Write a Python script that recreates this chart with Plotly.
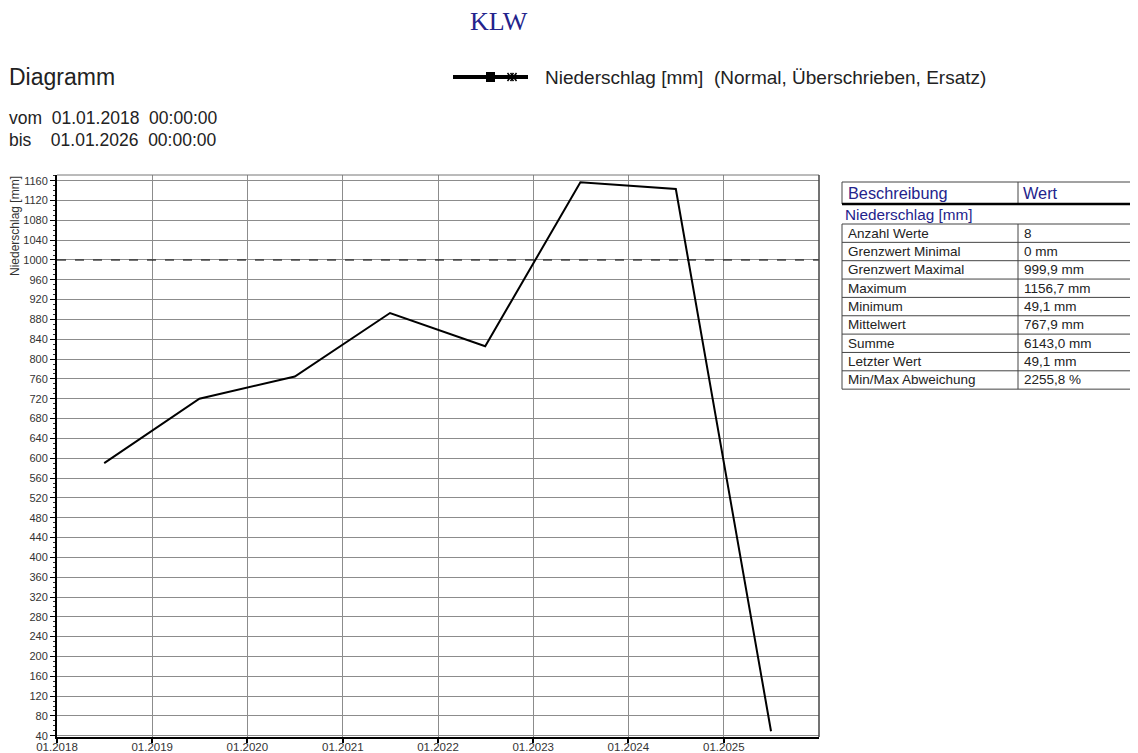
import plotly.graph_objects as go

# ---------------- data ----------------
dates = ["2018-07-01", "2019-07-01", "2020-07-01", "2021-07-01",
         "2022-07-01", "2023-07-01", "2024-07-01", "2025-07-01"]
niederschlag = [590.0, 720.0, 765.0, 893.0, 826.0, 1156.7, 1143.2, 49.1]
grenzwert_max = 999.9

year_ticks = ["2018-01-01", "2019-01-01", "2020-01-01", "2021-01-01",
              "2022-01-01", "2023-01-01", "2024-01-01", "2025-01-01"]
year_labels = ["01.2018", "01.2019", "01.2020", "01.2021",
               "01.2022", "01.2023", "01.2024", "01.2025"]

table_labels = ["Anzahl Werte", "Grenzwert Minimal", "Grenzwert Maximal", "Maximum",
                "Minimum", "Mittelwert", "Summe", "Letzter Wert", "Min/Max Abweichung"]
table_values = ["8", "0 mm", "999,9 mm", "1156,7 mm", "49,1 mm", "767,9 mm",
                "6143,0 mm", "49,1 mm", "2255,8 %"]

# ---------------- geometry (page pixels) ----------------
PAGE_W, PAGE_H = 1138, 753
OFF = 8                      # default body margin of the html page
L, R, T, B = 57, 819, 175, 737
PW, PH = R - L, B - T


def px(x):
    return (x - L) / PW


def py(y):
    return (B - y) / PH


FONT = "Liberation Sans, Arial, sans-serif"
BLUE = "#23238c"

fig = go.Figure()
fig.add_trace(go.Scatter(x=dates, y=niederschlag, mode="lines",
                         line=dict(color="black", width=2),
                         showlegend=False, hoverinfo="x+y"))

shapes = []
ann = []

# threshold dashed line
shapes.append(dict(type="line", xref="paper", yref="y", x0=0, x1=1,
                   y0=grenzwert_max, y1=grenzwert_max,
                   line=dict(color="black", width=1, dash="dash")))
# top and right border
shapes.append(dict(type="line", xref="paper", yref="paper", x0=0, x1=1, y0=1, y1=1,
                   line=dict(color="#777", width=1)))
shapes.append(dict(type="line", xref="paper", yref="paper", x0=1, x1=1, y0=0, y1=1,
                   line=dict(color="#444", width=1.5)))

# ---------- header texts ----------
ann.append(dict(text="KLW", x=px(499), y=py(22), xref="paper", yref="paper",
                showarrow=False, xanchor="center", yanchor="middle",
                font=dict(family="Liberation Serif, Times New Roman, serif", size=26, color=BLUE)))
ann.append(dict(text="Diagramm", x=px(7), y=py(77), xref="paper", yref="paper",
                showarrow=False, xanchor="left", yanchor="middle",
                font=dict(family=FONT, size=23, color="#222")))
ann.append(dict(text="vom  01.01.2018  00:00:00", x=px(7), y=py(118), xref="paper", yref="paper",
                showarrow=False, xanchor="left", yanchor="middle",
                font=dict(family=FONT, size=17.5, color="#222")))
ann.append(dict(text="bis    01.01.2026  00:00:00", x=px(7), y=py(140), xref="paper", yref="paper",
                showarrow=False, xanchor="left", yanchor="middle",
                font=dict(family=FONT, size=17.5, color="#222")))

# ---------- custom legend ----------
shapes.append(dict(type="line", xref="paper", yref="paper", x0=px(453), x1=px(528),
                   y0=py(77), y1=py(77), line=dict(color="black", width=4)))
shapes.append(dict(type="rect", xref="paper", yref="paper", x0=px(486), x1=px(495),
                   y0=py(72), y1=py(82), line=dict(color="black", width=0), fillcolor="black"))
for dx in (-1.5, 1.5):
    shapes.append(dict(type="line", xref="paper", yref="paper",
                       x0=px(509 + dx), x1=px(515 + dx), y0=py(73), y1=py(81),
                       line=dict(color="black", width=1.5)))
    shapes.append(dict(type="line", xref="paper", yref="paper",
                       x0=px(509 + dx), x1=px(515 + dx), y0=py(81), y1=py(73),
                       line=dict(color="black", width=1.5)))
ann.append(dict(text="Niederschlag [mm]  (Normal, Überschrieben, Ersatz)",
                x=px(543), y=py(77), xref="paper", yref="paper",
                showarrow=False, xanchor="left", yanchor="middle",
                font=dict(family=FONT, size=19, color="#222")))

# ---------- y axis title ----------
ann.append(dict(text="Niederschlag [mm]", x=px(15), y=py(226), xref="paper", yref="paper",
                showarrow=False, xanchor="center", yanchor="middle", textangle=-90,
                font=dict(family=FONT, size=12, color="#333")))

# ---------- statistics table ----------
TX0, TX1, TXC = 842, 1150, 1018
HY0, HY1 = 182, 204
shapes.append(dict(type="rect", xref="paper", yref="paper", x0=px(TX0), x1=px(TX1),
                   y0=py(HY1), y1=py(HY0), line=dict(color="#444", width=1)))
shapes.append(dict(type="line", xref="paper", yref="paper", x0=px(TXC), x1=px(TXC),
                   y0=py(HY1), y1=py(HY0), line=dict(color="#444", width=1)))
shapes.append(dict(type="line", xref="paper", yref="paper", x0=px(TX0), x1=px(TX1),
                   y0=py(HY1), y1=py(HY1), line=dict(color="black", width=2.5)))
ann.append(dict(text="Beschreibung", x=px(846), y=py(193), xref="paper", yref="paper",
                showarrow=False, xanchor="left", yanchor="middle",
                font=dict(family=FONT, size=16.3, color=BLUE)))
ann.append(dict(text="Wert", x=px(1021), y=py(193), xref="paper", yref="paper",
                showarrow=False, xanchor="left", yanchor="middle",
                font=dict(family=FONT, size=16.3, color=BLUE)))
ann.append(dict(text="Niederschlag [mm]", x=px(843), y=py(214), xref="paper", yref="paper",
                showarrow=False, xanchor="left", yanchor="middle",
                font=dict(family=FONT, size=15.3, color=BLUE)))

RY0, RH = 224, 18.35
n = len(table_labels)
shapes.append(dict(type="rect", xref="paper", yref="paper", x0=px(TX0), x1=px(TX1),
                   y0=py(RY0 + n * RH), y1=py(RY0), line=dict(color="#444", width=1)))
shapes.append(dict(type="line", xref="paper", yref="paper", x0=px(TXC), x1=px(TXC),
                   y0=py(RY0 + n * RH), y1=py(RY0), line=dict(color="#444", width=1)))
for i, (lab, val) in enumerate(zip(table_labels, table_values)):
    yc = RY0 + (i + 0.5) * RH
    if i > 0:
        shapes.append(dict(type="line", xref="paper", yref="paper", x0=px(TX0), x1=px(TX1),
                           y0=py(RY0 + i * RH), y1=py(RY0 + i * RH),
                           line=dict(color="#444", width=1)))
    ann.append(dict(text=lab, x=px(846), y=py(yc), xref="paper", yref="paper",
                    showarrow=False, xanchor="left", yanchor="middle",
                    font=dict(family=FONT, size=13.5, color="#222")))
    ann.append(dict(text=val, x=px(1022), y=py(yc), xref="paper", yref="paper",
                    showarrow=False, xanchor="left", yanchor="middle",
                    font=dict(family=FONT, size=13.5, color="#222")))

fig.update_layout(
    width=PAGE_W - OFF, height=PAGE_H - OFF,
    margin=dict(l=L - OFF, r=PAGE_W - R, t=T - OFF, b=PAGE_H - B, autoexpand=False),
    paper_bgcolor="white", plot_bgcolor="white",
    template="none",
    shapes=shapes, annotations=ann,
    font=dict(family=FONT, color="#222"),
    xaxis=dict(type="date", range=["2018-01-01", "2026-01-01"],
               tickvals=year_ticks, ticktext=year_labels,
               showgrid=True, gridcolor="#8c8c8c", gridwidth=1,
               showline=True, linecolor="black", linewidth=2,
               ticks="outside", ticklen=4, tickcolor="black", tickwidth=1.5,
               ticklabelstandoff=-6,
               tickfont=dict(family=FONT, size=11.5, color="#333"),
               zeroline=False, automargin=False, fixedrange=True),
    yaxis=dict(range=[37.5, 1171.5], tick0=40, dtick=40,
               showgrid=True, gridcolor="#8c8c8c", gridwidth=1,
               showline=True, linecolor="black", linewidth=2,
               ticks="outside", ticklen=5, tickcolor="black", tickwidth=1,
               tickfont=dict(family=FONT, size=11, color="#333"),
               minor=dict(dtick=10, tick0=0, ticks="outside", ticklen=2,
                          tickcolor="#333", showgrid=False),
               zeroline=False, automargin=False, fixedrange=True),
)

fig.write_html("out.html")
